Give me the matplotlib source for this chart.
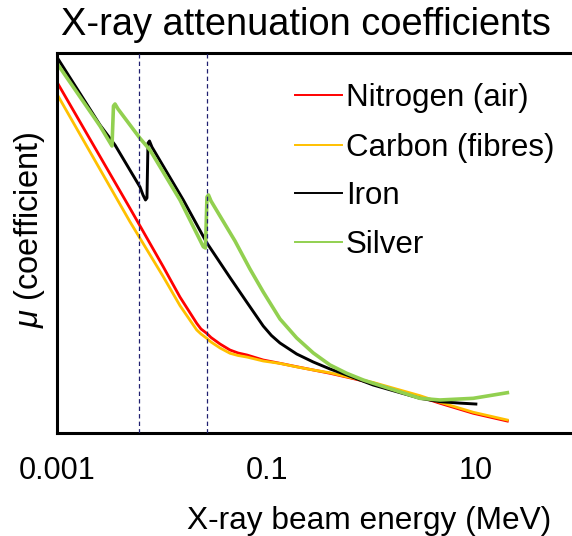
""" x-ray attenuation coefficients """

import matplotlib.pyplot as plt
from matplotlib.lines import Line2D

plt.rcParams['font.family'] = ['Liberation Sans', 'DejaVu Sans']
plt.rcParams['mathtext.fontset'] = 'custom'
plt.rcParams['mathtext.it'] = 'Liberation Sans:italic'
plt.rcParams['mathtext.rm'] = 'Liberation Sans'

# energies in MeV, coefficients in arbitrary log units
energy_n = [0.001, 0.00493, 0.01026, 0.01483, 0.02143, 0.02355, 0.02667, 0.02938,
            0.03581, 0.04457, 0.05321, 0.06485, 0.0927, 0.134, 0.1935, 0.279,
            0.403, 0.582, 1.044, 2.92, 4.54, 9.44, 20]
mu_n = [3420, 35.9, 4.28, 1.42, 0.547, 0.445, 0.380, 0.326,
        0.2576, 0.207, 0.1858, 0.1726, 0.1439, 0.1276, 0.1127, 0.100,
        0.0887, 0.0773, 0.0617, 0.0378, 0.0298, 0.0207, 0.0156]

energy_c = [0.001, 0.00493, 0.01026, 0.01483, 0.02143, 0.02355, 0.02667, 0.02938,
            0.03581, 0.04457, 0.05321, 0.06485, 0.0927, 0.134, 0.1935, 0.279,
            0.403, 0.582, 1.044, 2.92, 4.54, 9.44, 20]
mu_c = [2210, 22.0, 2.98, 1.04, 0.429, 0.371, 0.317, 0.2768,
        0.2228, 0.1837, 0.1695, 0.160, 0.1387, 0.127, 0.1120, 0.100,
        0.0904, 0.0785, 0.0635, 0.0393, 0.0309, 0.0215, 0.0162]

energy_fe = [0.001, 0.00255, 0.00355, 0.00615, 0.00657, 0.00694, 0.00717, 0.00733,
             0.00758, 0.00800, 0.01595, 0.02667, 0.04457, 0.0644, 0.0927, 0.111,
             0.134, 0.1935, 0.279, 0.403, 0.582, 1.044, 2.92, 4.54, 7.05, 10]
mu_fe = [8490, 742, 358, 77.8, 58.2, 48.5, 52.2, 385,
         415, 333, 48.5, 10.3, 2.89, 1.186, 0.495, 0.351,
         0.267, 0.179, 0.1337, 0.1038, 0.0834, 0.0579, 0.0357, 0.0316, 0.0300, 0.0290]

energy_ag = [0.001, 0.00255, 0.00332, 0.00343, 0.00355, 0.00379, 0.00615, 0.00766,
             0.01483, 0.02477, 0.0260, 0.02686, 0.02778, 0.02935, 0.0498, 0.0692,
             0.0927, 0.134, 0.1935, 0.279, 0.403, 0.582, 0.839, 1.044,
             2.92, 4.54, 9.44, 20]
mu_ag = [6820, 716, 346, 1482, 1593, 1328, 457, 299,
         48.5, 8.87, 8.45, 54.1, 58.2, 46.8, 10.9, 3.94,
         1.71, 0.640, 0.321, 0.1858, 0.120, 0.0887, 0.0695, 0.0617,
         0.0357, 0.0336, 0.0357, 0.0438]

edge_lines = [0.00605, 0.0267]

tick_values = [0.001, 0.1, 10]
tick_labels = ['0.001', '0.1', '10']

names = ['Nitrogen (air)', 'Carbon (fibres)', 'Iron', 'Silver']
colors = ['#FF0000', '#FFC000', '#000000', '#92D050']

fig = plt.figure(figsize=(5.72, 5.36), dpi=100)
ax = fig.add_axes([0.1005, 0.1916, 0.9143, 0.7086])

ax.plot(energy_n, mu_n, color=colors[0], lw=2.0)
ax.plot(energy_c, mu_c, color=colors[1], lw=2.0)
ax.plot(energy_fe, mu_fe, color=colors[2], lw=2.1)
ax.plot(energy_ag, mu_ag, color=colors[3], lw=2.6)

for e in edge_lines:
    ax.axvline(e, color='#202070', lw=0.9, ls=(0, (3.5, 2.5)), zorder=5)

ax.set_xscale('log')
ax.set_yscale('log')
ax.set_xlim(0.001, 100)
ax.set_ylim(0.01, 1e4)
ax.minorticks_off()
ax.set_xticks(tick_values, tick_labels)
ax.set_yticks([])
ax.tick_params(axis='x', length=0, pad=16, labelsize=22)

for side in ['left', 'top', 'bottom']:
    ax.spines[side].set_linewidth(2.2)
ax.spines['right'].set_visible(False)

fig.text(61 / 572, 1 - 35 / 536, 'X-ray attenuation coefficients',
         fontsize=27.4, ha='left', va='baseline')
fig.text(369 / 572, 1 - 529 / 536, 'X-ray beam energy (MeV)',
         fontsize=22.8, ha='center', va='baseline')
fig.text(30 / 572, 1 - 230 / 536, r'$\mu$ (coefficient)',
         fontsize=23.5, rotation=90, ha='center', va='center')

# legend drawn by hand
rows = [95, 145, 193, 242]
for name, c, r in zip(names, colors, rows):
    y = 1 - r / 536
    fig.add_artist(Line2D([295 / 572, 342 / 572], [y, y], color=c, lw=1.4,
                          transform=fig.transFigure))
    fig.text(346 / 572, 1 - (r + 11) / 536, name, fontsize=22.5,
             ha='left', va='baseline')

plt.savefig('out.png', dpi=100)
